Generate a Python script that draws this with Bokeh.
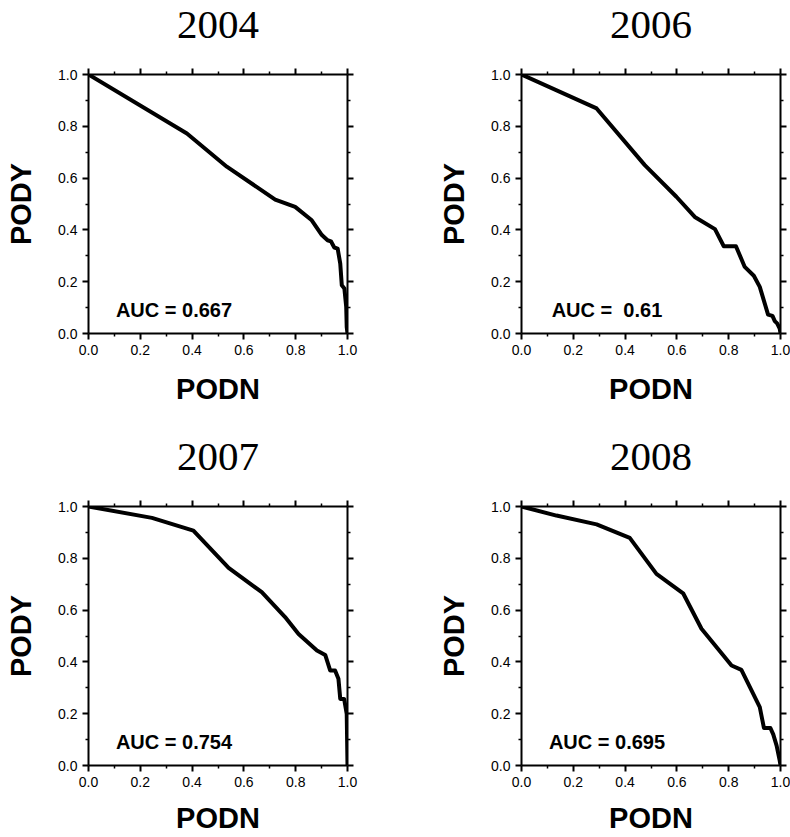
from bokeh.plotting import figure
from bokeh.layouts import column, row
from bokeh.models import Range1d, FixedTicker, LinearAxis
from bokeh.core.properties import value
from bokeh.embed import file_html
from bokeh.resources import INLINE

years = ["2004", "2006", "2007", "2008"]
auc_labels = ["AUC = 0.667", "AUC = \u00a00.61", "AUC = 0.754", "AUC = 0.695"]

podn_2004 = [0.0, 0.38, 0.534, 0.721, 0.798, 0.862, 0.901, 0.923, 0.936, 0.949, 0.962, 0.972, 0.978, 0.988, 0.995, 0.997, 1.0]
pody_2004 = [1.0, 0.772, 0.644, 0.517, 0.489, 0.437, 0.380, 0.360, 0.356, 0.332, 0.328, 0.270, 0.186, 0.174, 0.103, 0.025, 0.0]

podn_2006 = [0.0, 0.290, 0.476, 0.598, 0.669, 0.747, 0.781, 0.828, 0.862, 0.897, 0.920, 0.952, 0.969, 0.978, 0.987, 0.997, 1.0]
pody_2006 = [1.0, 0.869, 0.650, 0.528, 0.450, 0.403, 0.337, 0.337, 0.257, 0.223, 0.180, 0.073, 0.068, 0.048, 0.039, 0.019, 0.0]

podn_2007 = [0.0, 0.245, 0.405, 0.541, 0.669, 0.759, 0.811, 0.882, 0.914, 0.933, 0.952, 0.965, 0.972, 0.987, 0.997, 1.0]
pody_2007 = [1.0, 0.956, 0.907, 0.763, 0.669, 0.573, 0.508, 0.444, 0.427, 0.367, 0.367, 0.335, 0.257, 0.257, 0.199, 0.0]

podn_2008 = [0.0, 0.135, 0.290, 0.418, 0.521, 0.624, 0.695, 0.759, 0.811, 0.849, 0.920, 0.936, 0.961, 0.972, 0.985, 0.997, 1.0]
pody_2008 = [1.0, 0.965, 0.931, 0.879, 0.740, 0.665, 0.528, 0.450, 0.386, 0.369, 0.225, 0.145, 0.145, 0.120, 0.077, 0.019, 0.0]

major_ticks = [0.0, 0.2, 0.4, 0.6, 0.8, 1.0]
minor_ticks = [0.1, 0.3, 0.5, 0.7, 0.9]
tick_labels = ["0.0", "0.2", "0.4", "0.6", "0.8", "1.0"]

auc_x = 0.33
auc_y = 0.09

SANS = "Liberation Sans"
SERIF = "Liberation Serif"


def style_axis(ax, labels=True):
    ax.ticker = FixedTicker(ticks=major_ticks, minor_ticks=minor_ticks)
    ax.axis_line_color = "black"
    ax.axis_line_width = 2
    ax.major_tick_line_color = "black"
    ax.major_tick_line_width = 2
    ax.minor_tick_line_color = "black"
    ax.minor_tick_line_width = 1.5
    ax.major_tick_in = 0
    ax.major_tick_out = 6
    ax.minor_tick_in = 0
    ax.minor_tick_out = 3
    if labels:
        ax.major_label_overrides = {t: s for t, s in zip(major_ticks, tick_labels)}
        ax.major_label_text_font = SANS
        ax.major_label_text_font_size = "14px"
        ax.major_label_text_color = "black"
        ax.major_label_standoff = 5
    else:
        ax.major_label_overrides = {t: "" for t in major_ticks}
        ax.major_label_text_font_size = "1px"
        ax.major_label_standoff = 0


def panel(year, auc, xs, ys, width, height, bl, br, bt, bb, xlab_standoff):
    p = figure(width=width, height=height, x_range=Range1d(0, 1), y_range=Range1d(0, 1),
               output_backend="svg", toolbar_location=None,
               min_border_left=bl, min_border_right=br, min_border_top=bt, min_border_bottom=bb)
    p.grid.visible = False
    p.outline_line_color = None
    p.background_fill_color = "white"
    p.border_fill_color = "white"

    for ax in p.xaxis:
        style_axis(ax)
        ax.axis_label = "PODN"
        ax.axis_label_text_font = SANS
        ax.axis_label_text_font_style = "bold"
        ax.axis_label_text_font_size = "29px"
        ax.axis_label_text_color = "black"
        ax.axis_label_standoff = xlab_standoff
    for ax in p.yaxis:
        style_axis(ax)
        ax.axis_label = "PODY"
        ax.axis_label_text_font = SANS
        ax.axis_label_text_font_style = "bold"
        ax.axis_label_text_font_size = "29px"
        ax.axis_label_text_color = "black"
        ax.axis_label_standoff = 18

    top = LinearAxis()
    style_axis(top, labels=False)
    top.axis_label = year
    top.axis_label_text_font = SERIF
    top.axis_label_text_font_style = "normal"
    top.axis_label_text_font_size = "41px"
    top.axis_label_text_color = "black"
    top.axis_label_standoff = 31
    p.add_layout(top, "above")
    right = LinearAxis()
    style_axis(right, labels=False)
    p.add_layout(right, "right")

    p.line(xs, ys, line_color="black", line_width=4, line_join="round")
    p.text(x=[auc_x], y=[auc_y], text=[auc], text_font=value(SANS), text_font_style="bold",
           text_font_size="20px", text_align="center", text_baseline="alphabetic", text_color="black")
    return p


p1 = panel(years[0], auc_labels[0], podn_2004, pody_2004, 395, 432, 88, 48, 74, 99, 15)
p2 = panel(years[1], auc_labels[1], podn_2006, pody_2006, 395, 432, 126, 10, 74, 99, 15)
p3 = panel(years[2], auc_labels[2], podn_2007, pody_2007, 395, 405, 88, 48, 74, 72, 12)
p4 = panel(years[3], auc_labels[3], podn_2008, pody_2008, 395, 405, 126, 10, 74, 72, 12)

layout = column(row(p1, p2), row(p3, p4))
open("out.html", "w").write(file_html(layout, INLINE))
